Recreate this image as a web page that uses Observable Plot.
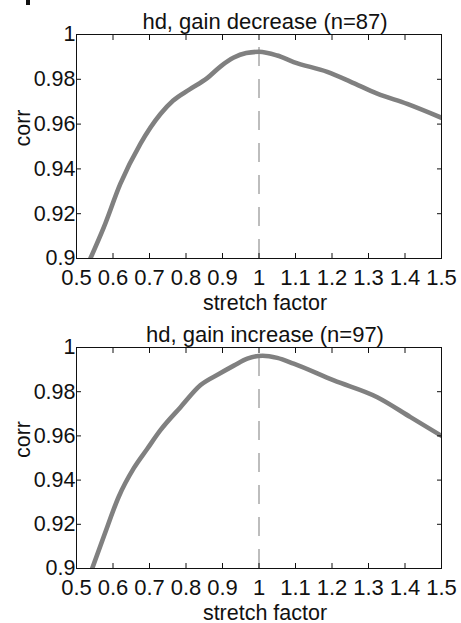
<!DOCTYPE html>
<html><head><meta charset="utf-8">
<script src="https://cdn.jsdelivr.net/npm/d3@7"></script>
<script src="https://cdn.jsdelivr.net/npm/@observablehq/plot@0.6"></script>
<style>
body{margin:0;background:#fff;}
#c{position:relative;width:461px;height:623px;background:#fff;}
#c svg{display:block;}
#frag{position:absolute;left:26px;top:0;width:4px;height:5px;background:#111;}
</style></head><body><div id="c"><div id="frag"></div></div>
<script>
// ---- data ----
const titles = ["hd, gain decrease (n=87)", "hd, gain increase (n=97)"];
const xLabel = "stretch factor";
const yLabel = "corr";
const xTicks = [0.5,0.6,0.7,0.8,0.9,1,1.1,1.2,1.3,1.4,1.5];
const xTickLabels = ["0.5","0.6","0.7","0.8","0.9","1","1.1","1.2","1.3","1.4","1.5"];
const yTicks = [0.9,0.92,0.94,0.96,0.98,1];
const yTickLabels = ["0.9","0.92","0.94","0.96","0.98","1"];

const decreaseStretch = [0.538,0.575,0.620,0.675,0.730,0.765,0.810,0.858,0.895,0.931,0.965,1.000,1.050,1.095,1.187,1.250,1.324,1.406,1.500];
const decreaseCorr    = [0.900,0.914,0.9333,0.9512,0.9645,0.9705,0.9755,0.9805,0.9858,0.9897,0.9917,0.9923,0.9906,0.9877,0.9833,0.9790,0.9736,0.9690,0.9628];
const increaseStretch = [0.543,0.575,0.616,0.657,0.694,0.730,0.785,0.840,0.890,0.931,0.968,1.010,1.050,1.095,1.205,1.324,1.415,1.500];
const increaseCorr    = [0.900,0.9146,0.9326,0.9454,0.9542,0.9626,0.9730,0.9830,0.9880,0.9918,0.9950,0.9963,0.9953,0.9927,0.9851,0.9775,0.9685,0.9600];
const peakStretch = 1;
const peakTop = [0.9945, 0.9985];

const panels = [
  {title: titles[0], xs: decreaseStretch, ys: decreaseCorr, peak: peakTop[0], height: 312, mt: 34, mb: 54},
  {title: titles[1], xs: increaseStretch, ys: increaseCorr, peak: peakTop[1], height: 311, mt: 35, mb: 55}
];

const font = "'Liberation Sans', Arial, Helvetica, sans-serif";
const container = document.getElementById("c");

for (const p of panels) {
  const rows = p.xs.map((x, i) => ({x, y: p.ys[i]}));
  const chart = Plot.plot({
    width: 461,
    height: p.height,
    marginLeft: 76,
    marginRight: 20,
    marginTop: p.mt,
    marginBottom: p.mb,
    style: {fontFamily: font, background: "#fff", color: "#111", overflow: "visible"},
    x: {domain: [0.5, 1.5]},
    y: {domain: [0.9, 1]},
    marks: [
      Plot.ruleX([peakStretch], {x: d => d, y1: 0.9, y2: p.peak, stroke: "#9a9a9a", strokeWidth: 1.3, strokeDasharray: "19,13"}),
      Plot.line(rows, {x: "x", y: "y", stroke: "#808080", strokeWidth: 4.6, curve: "monotone-x", clip: true}),
      Plot.frame({stroke: "#111", strokeWidth: 1}),
      Plot.axisX(xTicks, {anchor: "bottom", tickSize: -5, tickFormat: () => "", label: null, stroke: "#111"}),
      Plot.axisX(xTicks, {anchor: "top", tickSize: -5, tickFormat: () => "", label: null, stroke: "#111"}),
      Plot.axisY(yTicks, {anchor: "left", tickSize: -5, tickFormat: () => "", label: null, stroke: "#111"}),
      Plot.axisY(yTicks, {anchor: "right", tickSize: -5, tickFormat: () => "", label: null, stroke: "#111"}),
      Plot.axisX(xTicks, {anchor: "bottom", tickSize: 0, tickPadding: 11, fontSize: 22, fill: "#111",
        tickFormat: d => xTickLabels[xTicks.indexOf(d)], label: null}),
      Plot.axisY(yTicks, {anchor: "left", tickSize: 0, tickPadding: 1, fontSize: 21.5, fill: "#111",
        tickFormat: d => yTickLabels[yTicks.indexOf(d)], label: null}),
      Plot.text([p.title], {text: d => d, frameAnchor: "top", dy: -6, dx: 6, lineAnchor: "bottom", fontSize: 22, fill: "#111"}),
      Plot.text([xLabel], {text: d => d, frameAnchor: "bottom", dy: 51, dx: 6, lineAnchor: "bottom", fontSize: 21.5, fill: "#111"}),
      Plot.text([yLabel], {text: d => d, frameAnchor: "left", dx: -53, rotate: -90, fontSize: 21.5, fill: "#111"})
    ]
  });
  container.appendChild(chart);
}
</script>
</body></html>
